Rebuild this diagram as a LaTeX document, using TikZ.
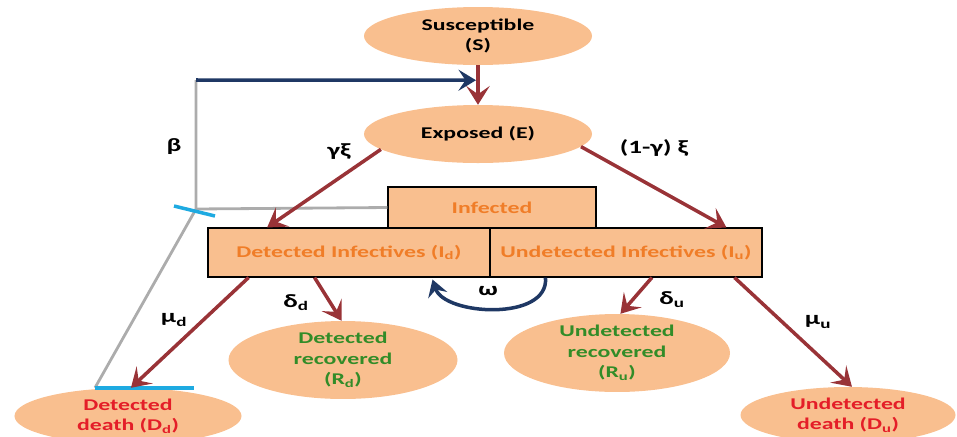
\documentclass[tikz,border=0pt]{standalone}
\usepackage{fontspec}
\setmainfont{Carlito}[FakeStretch=1.45]
\usepackage{tikz}
\usetikzlibrary{shapes.geometric,arrows.meta}
\definecolor{peach}{RGB}{249,191,143}
\definecolor{flowred}{RGB}{153,51,55}
\definecolor{navy}{RGB}{31,56,100}
\definecolor{linegray}{RGB}{172,172,172}
\definecolor{barcyan}{RGB}{30,170,225}
\definecolor{infcol}{RGB}{240,125,40}
\definecolor{reccol}{RGB}{50,140,40}
\definecolor{deathcol}{RGB}{228,30,40}

\begin{document}
\begin{tikzpicture}[x=0.03cm, y=-0.03cm,
                    font=\bfseries\fontsize{14}{17.5}\selectfont,
                    state/.style={ellipse, fill=peach, inner sep=0, align=center},
                    comp/.style={draw=black, fill=peach, line width=0.9pt, text=infcol, inner sep=0},
                    flow/.style={draw=flowred, line width=3pt, -{Stealth[length=16pt, width=20pt, inset=7pt]}},
                    rate/.style={font=\bfseries\fontsize{16}{18}\selectfont}]
                \clip (0,0) rectangle (957,436);
                \node (S) [state, minimum width=6.84cm, minimum height=1.74cm] at (478,36) {Susceptible\\(S)};
                \node (E) [state, minimum width=6.84cm, minimum height=1.74cm] at (478,134) {Exposed (E)};
                \node (I) [comp, minimum width=6.24cm, minimum height=1.23cm] at (492,207.5) {Infected};
                \node (Id) [comp, minimum width=8.46cm, minimum height=1.47cm] at (349,252.5) {Detected Infectives (I\textsubscript{d})};
                \node (Iu) [comp, minimum width=8.16cm, minimum height=1.47cm] at (626,252.5) {Undetected Infectives (I\textsubscript{u})};
                \node (Rd) [state, text=reccol, minimum width=6.87cm, minimum height=1.65cm] at (343,360) {Detected\\recovered\\(R\textsubscript{d})};
                \node (Ru) [state, text=reccol, minimum width=6.78cm, minimum height=1.74cm] at (617,353) {Undetected\\recovered\\(R\textsubscript{u})};
                \node (Dd) [state, text=deathcol, minimum width=6.81cm, minimum height=1.68cm] at (128,416) {Detected\\death (D\textsubscript{d})};
                \node (Du) [state, text=deathcol, minimum width=6.45cm, minimum height=1.68cm] at (848,415) {Undetected\\death (D\textsubscript{u})};

                % feedback of infectious classes into transmission
                \coordinate (jn) at (196,209);
                \coordinate (fb) at (196,80);
                \path (S.south) ++(-2,15) coordinate (tgt);
                \path (Dd.north) ++(-33,0) coordinate (b1) ++(99,0) coordinate (b2);
                \draw [linegray, line width=2.4pt] (b1) -- (jn) -- (fb);
                \draw [linegray, line width=2.4pt] (I.west) -- (jn);
                \draw [navy, line width=3pt, -{Stealth[length=15pt, width=18pt, inset=6pt]}] (fb) -- (tgt);
                \draw [barcyan, line width=3pt] (jn) ++(-22,-3) -- ++(41,10);
                \draw [barcyan, line width=3pt] (b1) -- (b2);

                \draw [flow] (S.south) -- (E.north);
                \draw [flow] (E.189) -- (Id.163);
                \draw [flow] (E.353) -- (Iu.14);
                \draw [flow] (Id.194) -- (Dd.84);
                \draw [flow] (Id.216) -- (Rd.92);
                \draw [flow] (Iu.316) -- (Ru.85);
                \draw [flow] (Iu.347) -- (Du.82);

                \path (Iu.south west) ++(56,0) coordinate (w1);
                \path (Id.south east) ++(-58,2) coordinate (w2);
                \draw [navy, line width=3pt, -{Stealth[length=14pt, width=17pt, inset=5pt]}]
                    (w1) .. controls +(4,44) and +(12,36) .. (w2);

                \node (beta) [rate] at (174,147) {β};
                \node (gx) [rate] at (339,152) {γξ};
                \node (gxu) [rate] at (654,148) {(1-γ) ξ};
                \node (mud) [rate] at (174,320) {μ\textsubscript{d}};
                \node (deld) [rate] at (296,303) {δ\textsubscript{d}};
                \node (om) [rate] at (488,291) {ω};
                \node (delu) [rate] at (672,300) {δ\textsubscript{u}};
                \node (muu) [rate] at (818,322) {μ\textsubscript{u}};
            \end{tikzpicture}
\end{document}
